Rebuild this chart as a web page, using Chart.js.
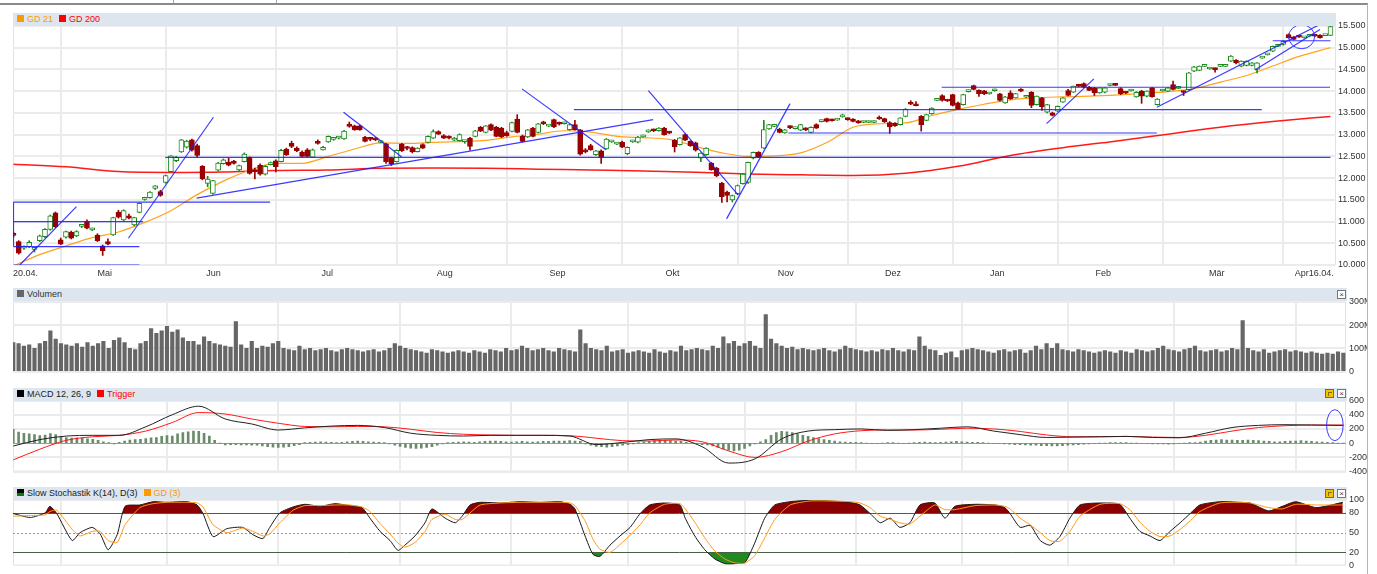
<!DOCTYPE html>
<html><head><meta charset="utf-8">
<script src="https://cdn.jsdelivr.net/npm/chart.js@4/dist/chart.umd.min.js"></script>
<style>
html,body{margin:0;padding:0;background:#fff;width:1377px;height:574px;overflow:hidden;font-family:"Liberation Sans",Arial,sans-serif;}
canvas{position:absolute;left:0;}
.hdr{position:absolute;background:#dde5ee;height:13px;font-size:9px;line-height:13px;color:#222;white-space:nowrap;}
.sq{display:inline-block;width:7px;height:7px;vertical-align:-0px;margin-right:3px;}
.hdr .t{display:inline-block;}
.btn{position:absolute;width:7px;height:7px;border:1px solid #777;background:#fff;font-size:8px;line-height:7px;text-align:center;color:#444;}
.ybtn{position:absolute;width:7px;height:7px;border:1px solid #8a6d00;background:#f3c200;}
.ybtn:after{content:"";position:absolute;left:2px;top:2px;width:3px;height:3px;border:0 solid #8a6d00;border-top-width:1px;border-left-width:1px;}
</style></head>
<body>
<div style="position:absolute;left:0;top:3px;width:1368px;height:2px;background:#8a8a8a"></div>
<div style="position:absolute;left:173px;top:0;width:1px;height:3px;background:#aaa"></div>
<div style="position:absolute;left:276px;top:0;width:1px;height:3px;background:#aaa"></div>
<div style="position:absolute;left:1367px;top:4px;width:1px;height:570px;background:#b5b5b5"></div>

<canvas id="cMain" width="1377" height="285" style="top:0"></canvas>
<canvas id="cVol" width="1367" height="95" style="top:285px"></canvas>
<canvas id="cMacd" width="1367" height="100" style="top:380px"></canvas>
<canvas id="cSto" width="1367" height="94" style="top:480px"></canvas>

<div class="hdr" style="left:13px;top:13px;width:1323px;"><span style="padding-left:4px"></span><span class="sq" style="background:#ff9900"></span><span class="t" style="color:#ff9900">GD 21</span><span class="sq" style="background:#ff0000;margin-left:6px"></span><span class="t" style="color:#ff0000">GD 200</span></div>
<div class="hdr" style="left:13px;top:288px;width:1334px;"><span style="padding-left:4px"></span><span class="sq" style="background:#666"></span><span class="t" style="color:#333">Volumen</span></div>
<div class="btn" style="left:1337px;top:290px">×</div>
<div class="hdr" style="left:13px;top:388px;width:1334px;"><span style="padding-left:4px"></span><span class="sq" style="background:#000"></span><span class="t">MACD 12, 26, 9</span><span class="sq" style="background:#ff0000;margin-left:6px"></span><span class="t" style="color:#ff0000">Trigger</span></div>
<div class="ybtn" style="left:1325px;top:389px"></div>
<div class="btn" style="left:1337px;top:389px">×</div>
<div class="hdr" style="left:13px;top:487px;width:1334px;"><span style="padding-left:4px"></span><span class="sq" style="background:linear-gradient(#000 55%,#0a7a0a 55%)"></span><span class="t">Slow Stochastik K(14), D(3)</span><span class="sq" style="background:#ff9900;margin-left:6px"></span><span class="t" style="color:#ff9900">GD (3)</span></div>
<div class="ybtn" style="left:1325px;top:489px"></div>
<div class="btn" style="left:1337px;top:489px">×</div>

<script>
// ---------------- DATA ----------------
const monthStarts = [9,29,50,73,94,116,138,159,179,199,219,242];
const monthLabels = ['20.04.','Mai','Jun','Jul','Aug','Sep','Okt','Nov','Dez','Jan','Feb','Mär','Apr16.04.'];
const monthLabelAt = [2.3,17.4,38.1,59.8,82.2,103.7,125.6,147.2,167.6,187.5,207.7,229.3,247.9];
const priceTicks = [10000,10500,11000,11500,12000,12500,13000,13500,14000,14500,15000,15500];
const volTicks = [0,100,200,300];
const macdTicks = [-400,-200,0,200,400,600];
const stoTicks = [0,20,50,80,100];

const open = [10720,10540,10390,10420,10360,10560,10650,10820,11200,10580,
10640,10750,10670,10890,11000,10810,10690,10440,10540,10690,
11220,11040,11130,10920,11210,11510,11550,11760,11690,11900,
12150,12400,12600,12710,12880,12750,12270,11880,11650,12180,
12330,12370,12390,12190,12380,12480,12190,12300,12090,12310,
12400,12380,12670,12800,12690,12600,12650,12480,12830,12650,
12830,12890,12920,12900,13210,13200,13200,12945,12910,12900,
12820,12790,12460,12380,12780,12700,12700,12610,12770,12820,
12920,13070,12980,12950,12870,12860,12840,12920,12960,13170,
13050,13230,13175,13150,13050,13075,13360,12960,12945,13150,
13050,13270,13195,13345,13270,13250,13115,13230,13110,12650,
12750,12540,12630,12670,12835,12780,12830,12560,12835,12825,
12950,13065,13110,13090,13150,13060,12870,12770,13000,12845,
12810,12460,12540,12345,12230,11885,11680,11500,11640,11870,
11900,12460,12590,12690,13130,13190,13130,13040,13180,13140,
13100,13140,13050,13230,13300,13370,13340,13335,13410,13360,
13360,13320,13280,13280,13280,13380,13370,13280,13260,13230,
13420,13720,13680,13420,13330,13480,13790,13900,13790,13920,
13730,13690,13990,14130,14020,14010,13935,14010,13940,13730,
13960,13845,14010,13860,13975,13690,13845,13515,13500,13540,
13745,14015,13975,14120,14175,14090,14075,13960,13975,14130,
14150,14060,13970,14005,13870,14000,13885,14075,13690,14005,
14000,14150,14065,13985,14035,14460,14480,14570,14510,14510,
14570,14570,14690,14715,14575,14590,14590,14500,14760,14835,
14920,15030,15075,15305,15250,15255,15225,15265,15275,15285,
15280,15285];
const high = [10760,10560,10440,10560,10400,10690,10840,11150,11220,10620,
10780,10780,10790,10920,11040,10850,10720,10460,10600,11100,
11260,11270,11170,11100,11430,11560,11690,11830,11720,12070,
12520,12500,12890,12870,12900,12780,12290,12040,11950,12360,
12440,12460,12410,12300,12580,12490,12230,12330,12290,12370,
12420,12660,12690,12850,12720,12630,12680,12670,12880,12730,
12970,12930,12960,13100,13290,13220,13220,12960,12940,12930,
12850,12800,12480,12650,12800,12730,12720,12700,12790,12970,
13110,13090,13000,12970,12940,13020,12870,12940,13100,13190,
13210,13250,13190,13170,13080,13290,13460,12990,13120,13170,
13260,13310,13230,13360,13290,13290,13240,13330,13120,12680,
12780,12640,12650,12910,12870,12810,12850,12720,12870,12960,
12990,13110,13130,13160,13170,13080,12890,12935,13020,12860,
12830,12580,12700,12360,12250,11900,11700,11610,11840,12100,
12370,12600,12610,13330,13240,13240,13150,13120,13200,13170,
13240,13160,13180,13250,13340,13380,13360,13370,13470,13380,
13370,13330,13310,13310,13310,13430,13380,13300,13280,13390,
13600,13780,13760,13440,13470,13620,13820,13920,13800,13930,
13750,13930,14030,14140,14030,14020,13960,14050,13950,13880,
14010,13950,14060,13890,13990,13890,13860,13700,13520,13660,
13850,14040,14120,14140,14190,14110,14090,14080,14080,14160,
14160,14080,13990,14040,13990,14020,14010,14090,13830,14040,
14085,14230,14090,14000,14430,14570,14580,14600,14540,14530,
14600,14610,14820,14730,14700,14700,14660,14660,14790,14870,
15040,15060,15160,15320,15260,15280,15250,15290,15290,15300,
15300,15500];
const low = [10640,10250,10360,10400,10300,10540,10630,10800,10860,10470,
10620,10600,10650,10860,10830,10790,10540,10220,10460,10680,
11080,11020,11060,10900,11200,11490,11540,11740,11580,11880,
12140,12380,12590,12690,12620,12480,11960,11800,11630,12160,
12320,12280,12320,12170,12370,12090,11980,12070,12070,12300,
12140,12370,12520,12700,12610,12490,12490,12470,12780,12640,
12820,12870,12900,12890,13170,13100,13100,12830,12860,12860,
12810,12340,12290,12370,12610,12650,12580,12600,12680,12810,
12910,13000,12910,12900,12860,12850,12800,12640,12950,13070,
13040,13090,12950,12930,12960,13060,13040,12830,12930,12950,
13040,13230,13180,13160,13220,13240,13100,13100,12530,12580,
12640,12520,12340,12660,12820,12770,12700,12540,12820,12810,
12940,13050,13070,13080,12990,13020,12600,12760,12860,12730,
12620,12380,12520,12180,12030,11440,11450,11450,11620,11860,
11880,12440,12470,12680,13120,13180,13040,13030,13140,13130,
13090,13090,13040,13140,13290,13290,13310,13330,13400,13330,
13290,13260,13275,13275,13275,13350,13280,13030,13190,13220,
13410,13690,13660,13080,13320,13470,13780,13770,13760,13660,
13580,13680,13980,14030,13880,13920,13930,14000,13770,13720,
13810,13840,13990,13850,13620,13680,13560,13500,13430,13530,
13740,13890,13970,14100,14080,14010,13900,13950,13960,14120,
14130,13920,13940,14000,13860,13720,13870,13860,13680,14000,
13990,14030,14060,13900,14020,14450,14470,14565,14505,14440,
14565,14565,14680,14630,14560,14580,14580,14420,14755,14830,
14910,15025,15060,15220,15180,15240,15220,15260,15255,15220,
15275,15280];
const close = [10680,10270,10420,10520,10380,10670,10820,11130,10880,10480,
10770,10620,10770,10910,10850,10830,10560,10330,10480,11090,
11100,11250,11080,11090,11420,11525,11680,11820,11600,12060,
12515,12480,12880,12850,12640,12520,11980,11980,11940,12345,
12420,12300,12340,12290,12550,12110,12150,12090,12270,12330,
12260,12640,12540,12730,12630,12500,12500,12650,12800,12710,
12960,12910,12940,13080,13190,13110,13110,12845,12890,12880,
12840,12380,12330,12640,12630,12680,12600,12690,12690,12960,
13070,13010,12920,12920,12920,13000,12850,12730,13090,13080,
13200,13100,12960,12945,12975,13280,13050,12845,13110,12960,
13250,13250,13210,13175,13240,13265,13230,13115,12550,12600,
12650,12630,12475,12900,12855,12800,12710,12710,12855,12945,
12970,13085,13090,13150,13000,13035,12715,12925,12870,12745,
12640,12575,12690,12190,12050,11575,11600,11600,11830,12090,
12360,12590,12485,13115,13230,13210,13050,13110,13160,13150,
13230,13110,13170,13150,13315,13305,13320,13350,13425,13345,
13305,13270,13295,13295,13295,13360,13290,13180,13200,13385,
13590,13700,13665,13230,13460,13610,13805,13785,13775,13670,
13590,13920,14005,14040,13945,13945,13945,14020,13790,13870,
13820,13945,14000,13870,13670,13885,13640,13690,13440,13650,
13845,13900,14115,14110,14090,14020,13960,14075,14075,14145,
14135,13940,13955,14020,13975,13885,14000,13870,13820,14020,
14075,14040,14080,13970,14420,14560,14575,14585,14525,14495,
14585,14585,14805,14650,14690,14690,14650,14650,14775,14850,
15035,15045,15150,15230,15190,15245,15240,15275,15265,15230,
15290,15485];

const gd21At  = [0,5,10,15,20,25,30,35,40,45,50,55,60,65,70,75,80,85,90,95,100,105,110,115,120,125,130,135,140,145,150,155,160,165,170,175,180,185,190,195,200,205,210,215,220,225,230,235,240,245,250,251];
const gd21    = [9980,10240,10440,10630,10760,10980,11250,11620,11930,12180,12340,12340,12500,12670,12810,12800,12820,12840,12870,12950,13010,13090,13060,12960,12930,12890,12730,12580,12500,12510,12580,12820,13170,13250,13270,13440,13580,13700,13800,13850,13870,13885,13910,13945,13990,14060,14210,14360,14580,14800,14970,15000];
const gd200At = [0,10,20,30,40,50,60,70,80,90,100,110,120,130,140,150,160,170,180,190,200,210,220,230,240,251];
const gd200   = [12320,12260,12150,12130,12140,12175,12185,12225,12230,12225,12205,12185,12165,12135,12095,12075,12060,12110,12270,12520,12700,12850,13010,13170,13300,13420];

// hand-drawn trend lines: [fromIndex, fromValue, toIndex, toValue]
const trendLines = [
 [0,11445,48.9,11445],[0,11000,24.7,11000],[0,10423,24.0,10423],[0,10000,24.0,10000],[0,11445,0,10423],
 [1.2,10000,12.0,11345],[21.9,10615,38.1,13400],[34.9,11540,121.9,13345],[28.9,12476,251,12476],
 [62.9,13515,74,12485],[96.9,14053,112.9,12653],[106.8,13576,237.9,13576],[121,14014,138.1,11615],
 [135.9,11061,148,13714],[147.7,13038,217.9,13038],[176.9,14091,250.9,14091],[196.9,13253,205.9,14283],
 [217.9,13629,249,15537],[236.6,14487,249,15420],[240,15161,251,15161]
];

const volume = [125,120,110,115,100,120,130,175,140,120,
115,110,120,105,125,110,120,130,100,135,
145,125,100,95,120,130,185,165,175,195,
170,180,145,130,130,115,150,130,120,115,
110,105,215,115,100,130,100,110,105,120,
130,100,95,90,110,95,100,90,95,100,
90,85,95,100,95,90,85,90,95,85,
90,100,120,110,100,95,90,85,80,95,
90,85,80,85,90,85,80,90,85,80,
95,90,85,100,90,95,110,100,90,95,
100,90,85,100,95,90,85,180,120,100,
95,90,110,85,90,95,80,85,90,85,
80,95,85,80,90,85,110,90,95,100,
95,90,110,100,150,120,130,110,120,130,
110,100,245,140,120,110,100,105,95,100,
95,90,95,100,90,85,95,110,100,95,
90,85,90,85,95,90,100,90,85,95,
90,150,110,95,90,70,80,85,60,90,
95,100,95,90,85,80,90,95,85,90,
95,80,90,110,95,120,100,120,95,90,
85,95,90,85,80,85,90,85,80,90,
85,80,95,90,85,90,100,110,95,90,
85,95,100,110,90,85,90,95,85,90,
100,95,220,100,90,85,95,80,85,90,
95,85,90,85,80,85,80,75,80,75,
85,80];

const macdAt  = [0,5,10,15,20,25,30,35,40,45,50,55,60,65,70,75,80,85,90,95,100,105,110,115,120,125,130,135,140,145,150,155,160,165,170,175,180,185,190,195,200,205,210,215,220,225,230,235,240,245,250,251];
const macd    = [-40,50,100,110,110,230,400,520,340,270,185,215,240,250,220,140,110,100,110,110,110,100,-20,10,50,60,-50,-280,-220,60,170,190,200,180,190,210,230,170,120,80,85,90,95,80,75,140,220,250,260,255,250,250];
const trigger = [-235,-85,40,90,110,170,290,430,410,340,280,235,230,235,230,195,150,125,115,110,110,105,70,35,30,45,20,-110,-200,-120,30,130,175,185,185,195,210,200,165,115,90,90,95,85,80,110,170,220,245,255,255,255];
const macdHist = [195,155,140,130,120,105,115,135,120,95,
80,70,75,70,60,55,40,20,5,-10,
10,30,45,50,55,65,75,80,95,105,
100,130,150,160,170,165,140,100,40,0,
-25,-20,-20,-25,-25,-30,-30,-40,-50,-55,
-60,-55,-50,-35,-20,5,10,15,20,15,
10,5,10,20,25,30,25,20,15,10,
5,-10,-30,-45,-60,-70,-75,-70,-60,-50,
-30,-10,5,10,15,20,15,10,20,25,
30,30,25,20,15,20,25,20,15,20,
25,25,30,30,30,35,30,25,-10,-30,
-45,-50,-55,-50,-40,-30,-20,-10,5,15,
25,35,40,40,35,30,25,10,0,-10,
-20,-25,-40,-60,-80,-100,-110,-100,-75,-40,
-10,20,50,110,150,165,160,150,130,110,
95,80,65,50,40,30,20,15,10,10,
5,0,-5,-5,0,5,5,0,-5,0,
5,10,15,10,5,10,15,20,25,20,
15,10,10,5,0,-5,-5,-10,-15,-20,
-20,-25,-30,-30,-35,-35,-40,-40,-35,-30,
-25,-20,-15,-10,-5,0,0,5,5,5,
5,0,0,-5,-5,-10,-10,-10,-15,-10,
-5,0,5,5,15,30,40,45,50,45,
45,40,40,45,40,35,30,25,20,20,
25,30,30,35,30,25,20,15,10,5,
0,0];

const stoAt = [0,3.2,6,6.9,8.2,11.1,12.6,14.9,16.4,17.9,19.6,21.1,23.9,26.4,29,32.8,34.7,35.8,37.7,40.3,43.3,45.2,47.1,48.4,50.3,52.8,55,57.9,60.7,63.5,65.8,67.3,69.2,71.1,72.6,73.9,75.8,77.7,79,81.5,83.4,84.7,86.2,88.1,91.9,95.6,99.4,103.2,105.1,106,107.9,109.4,110.7,112.6,114.5,116.4,118.3,120.1,122.9,125.8,126.8,128.6,130.5,132.4,134.3,136.2,138.1,139.9,141.8,143.7,146.6,150.3,154.1,157.9,159.8,161.7,163.6,165.5,167.3,169.2,171.1,173.9,175.8,177.7,181.5,185.3,187.1,188.1,190,191.9,193.8,195.6,197.5,199.4,201.3,205.1,208.8,210.7,212.6,214.5,216.4,218.3,220.2,222.1,223.9,227.7,231.5,233.4,236.9,239.5,242,245.9,250.9];
const stoK  = [79,73,80,90,79,38,50,58,48,24,47,90,92,97,96,97,92,79,44,56,58,47,41,58,80,89,93,90,94,91,88,72,52,38,23,31,45,65,86,72,65,75,92,96,95,97,96,97,93,86,45,17,14,31,45,58,79,92,95,92,72,45,24,10,3,3,5,34,72,92,97,99,98,96,92,79,65,72,58,65,92,95,72,90,93,92,88,79,58,61,38,31,44,72,92,95,93,72,52,45,38,52,65,79,92,97,96,95,83,90,97,88,96];
const stoD  = [75,76,77,82,84,55,45,52,52,38,35,62,88,94,96,96,95,89,62,50,57,52,45,48,65,84,91,91,92,92,89,82,64,48,34,28,35,52,70,78,70,70,80,92,95,96,96,96,95,91,68,40,25,20,32,46,62,80,93,94,86,66,42,22,10,4,4,15,42,70,92,98,98,97,95,88,75,70,65,63,75,92,85,85,91,92,90,86,72,62,50,38,37,52,75,93,94,85,66,52,44,45,55,68,82,95,96,95,88,86,93,92,92];

// ---------------- HELPERS ----------------
const FONT = '"Liberation Sans", Arial, sans-serif';
Chart.defaults.font.family = FONT;
Chart.defaults.font.size = 9;
Chart.defaults.color = '#333';
Chart.defaults.animation = false;

const GRID = '#ebebeb';
const UP = '#1d8a1d', DOWN = '#990000';
const idx = close.map((_, i) => i);
const isUp = idx.map(i => close[i] >= open[i]);
const pts = (xs, ys) => xs.map((x, k) => ({x, y: ys[k]}));
const de = v => String(v).replace(/\B(?=(\d{3})+(?!\d))/g, '.');

const ellipsePlugin = {
  id: 'ell',
  afterDatasetsDraw(chart, args, opts) {
    const {ctx, scales} = chart;
    (opts.items || []).forEach(e => {
      ctx.save();
      ctx.strokeStyle = e.color; ctx.lineWidth = 1;
      ctx.beginPath();
      ctx.ellipse(scales.x.getPixelForValue(e.x), scales.y.getPixelForValue(e.y), e.rx, e.ry, 0, 0, Math.PI * 2);
      ctx.stroke(); ctx.restore();
    });
  }
};
const refLines = {
  id: 'ref',
  beforeDatasetsDraw(chart, args, opts) {
    const {ctx, chartArea: a, scales} = chart;
    (opts.lines || []).forEach(l => {
      const y = Math.round(scales.y.getPixelForValue(l.v)) + 0.5;
      ctx.save(); ctx.strokeStyle = l.color; ctx.lineWidth = 1;
      ctx.setLineDash(l.dash || []);
      ctx.beginPath(); ctx.moveTo(a.left, y); ctx.lineTo(a.right, y); ctx.stroke(); ctx.restore();
    });
  }
};
const frame = {
  id: 'frame',
  beforeDraw(chart) {
    const {ctx, chartArea: a} = chart;
    ctx.save(); ctx.strokeStyle = '#e2e2e2'; ctx.lineWidth = 1;
    ctx.strokeRect(a.left + 0.5, a.top + 0.5, a.right - a.left - 1, a.bottom - a.top - 1);
    ctx.restore();
  }
};

function lowerX() {
  return {
    type: 'linear', min: -0.057, max: 251.5, offset: false,
    afterBuildTicks: s => { s.ticks = monthStarts.map(v => ({value: v})); },
    afterFit: s => { s.height = 0; },
    grid: {color: GRID, lineWidth: 2, drawTicks: false, offset: false},
    border: {display: false},
    ticks: {display: false}
  };
}
function rightY(min, max, ticks, width, fmt, gridColor) {
  return {
    position: 'right', min, max,
    afterBuildTicks: s => { s.ticks = ticks.map(v => ({value: v})); },
    afterFit: s => { s.width = width; },
    grid: {color: gridColor, lineWidth: c => (c.tick && c.tick.value === 0 && max === 600) ? 1 : 2, drawTicks: false},
    border: {display: false},
    ticks: {padding: 3, color: '#333', font: {size: 9, family: FONT}, callback: fmt}
  };
}

// ---------------- MAIN PRICE CHART ----------------
const mainXTicks = monthStarts.map(v => ({value: v, g: true}))
  .concat(monthLabelAt.map((v, k) => ({value: v, lab: monthLabels[k]})))
  .sort((a, b) => a.value - b.value);

const trendSets = trendLines.map(t => ({
  type: 'line', data: [{x: t[0], y: t[1]}, {x: t[2], y: t[3]}],
  borderColor: 'rgba(25,25,255,0.85)', borderWidth: 1.2, pointRadius: 0, order: 0
}));

new Chart(document.getElementById('cMain'), {
  type: 'bar',
  data: {
    datasets: [
      {type: 'line', data: pts(gd200At, gd200), borderColor: '#ff1a1a', borderWidth: 1.5, pointRadius: 0, cubicInterpolationMode: 'monotone', order: 5},
      {type: 'line', data: pts(gd21At, gd21), borderColor: '#ffa31a', borderWidth: 1.2, pointRadius: 0, cubicInterpolationMode: 'monotone', order: 4},
      {type: 'bar', data: idx.map(i => ({x: i, y: [low[i], high[i]]})), backgroundColor: idx.map(i => isUp[i] ? UP : DOWN), barThickness: 1, grouped: false, order: 3},
      {type: 'bar', data: idx.map(i => ({x: i, y: [open[i], close[i]]})), backgroundColor: idx.map(i => isUp[i] ? '#ffffff' : DOWN),
        borderColor: idx.map(i => isUp[i] ? UP : DOWN), borderWidth: 1, borderSkipped: false, barThickness: 5, minBarLength: 2, grouped: false, order: 2},
      ...trendSets
    ]
  },
  options: {
    responsive: false, animation: false,
    layout: {padding: {left: 13, top: 26, right: 0, bottom: 0}},
    plugins: {legend: {display: false}, tooltip: {enabled: false},
      ell: {items: [{x: 245.5, y: 15253, rx: 13, ry: 12, color: 'rgba(40,40,255,0.9)'}]}},
    scales: {
      x: {
        type: 'linear', min: -0.095, max: 252.05, offset: false,
        afterBuildTicks: s => { s.ticks = mainXTicks.map(t => Object.assign({}, t)); },
        afterFit: s => { s.height = 20; },
        grid: {color: c => (c.tick && c.tick.g) ? GRID : 'rgba(0,0,0,0)', lineWidth: 2, drawTicks: false, offset: false},
        border: {display: false},
        ticks: {autoSkip: false, maxRotation: 0, minRotation: 0, padding: 3, color: '#333', font: {size: 9, family: FONT},
          callback: (v, i, t) => t[i].lab || ''}
      },
      y: {
        position: 'right', min: 10000, max: 15500,
        afterBuildTicks: s => { s.ticks = priceTicks.map(v => ({value: v})); },
        afterFit: s => { s.width = 41; },
        grid: {color: GRID, lineWidth: 2, drawTicks: false},
        border: {display: false},
        ticks: {padding: 2, color: '#333', font: {size: 9, family: FONT}, callback: v => de(v)}
      }
    }
  },
  plugins: [frame, ellipsePlugin]
});

// ---------------- VOLUME ----------------
new Chart(document.getElementById('cVol'), {
  type: 'bar',
  data: {datasets: [{data: idx.map(i => ({x: i, y: volume[i]})), backgroundColor: '#666666', barThickness: 3.5}]},
  options: {
    responsive: false, animation: false,
    layout: {padding: {left: 13, top: 15, right: 0, bottom: 5}},
    plugins: {legend: {display: false}, tooltip: {enabled: false}},
    scales: {x: lowerX(), y: rightY(0, 308, volTicks, 21, v => v === 0 ? '0' : v + 'M', GRID)}
  },
  plugins: [frame]
});

// ---------------- MACD ----------------
new Chart(document.getElementById('cMacd'), {
  type: 'bar',
  data: {datasets: [
    {type: 'line', data: pts(macdAt, macd), borderColor: '#222', borderWidth: 1, pointRadius: 0, cubicInterpolationMode: 'monotone', order: 1},
    {type: 'line', data: pts(macdAt, trigger), borderColor: '#ff1a1a', borderWidth: 1, pointRadius: 0, cubicInterpolationMode: 'monotone', order: 2},
    {type: 'bar', data: idx.map(i => ({x: i, y: macdHist[i]})), backgroundColor: '#6b8c6b', barThickness: 2, order: 3}
  ]},
  options: {
    responsive: false, animation: false,
    layout: {padding: {left: 13, top: 20.5, right: 0, bottom: 6}},
    plugins: {legend: {display: false}, tooltip: {enabled: false},
      ell: {items: [{x: 249.4, y: 253, rx: 8.3, ry: 15.5, color: 'rgba(40,40,255,0.9)'}]}},
    scales: {x: lowerX(), y: rightY(-400, 600, macdTicks, 21, v => String(v), c => (c.tick && c.tick.value === 0) ? '#9a9a9a' : GRID)}
  },
  plugins: [frame, ellipsePlugin]
});

// ---------------- SLOW STOCHASTIC ----------------
new Chart(document.getElementById('cSto'), {
  type: 'line',
  data: {datasets: [
    {data: pts(stoAt, stoK), borderColor: 'rgba(0,0,0,0)', borderWidth: 0, pointRadius: 0, tension: 0.2,
      fill: {target: {value: 20}, above: 'rgba(0,0,0,0)', below: '#1f8a1f'}, order: 4},
    {data: pts(stoAt, stoK), borderColor: '#1a1a1a', borderWidth: 1, pointRadius: 0, tension: 0.2,
      fill: {target: {value: 80}, above: '#8b0000', below: 'rgba(0,0,0,0)'}, order: 2},
    {data: pts(stoAt, stoD), borderColor: '#ff9a1a', borderWidth: 1, pointRadius: 0, tension: 0.2, order: 1}
  ]},
  options: {
    responsive: false, animation: false,
    layout: {padding: {left: 13, top: 19.7, right: 0, bottom: 1.5}},
    plugins: {legend: {display: false}, tooltip: {enabled: false},
      ref: {lines: [{v: 80, color: '#555'}, {v: 20, color: '#555'}, {v: 50, color: '#999', dash: [2, 2]}]}},
    scales: {x: lowerX(), y: rightY(0, 100, stoTicks, 21, v => String(v), 'rgba(0,0,0,0)')}
  },
  plugins: [frame, refLines]
});
</script>
</body></html>
